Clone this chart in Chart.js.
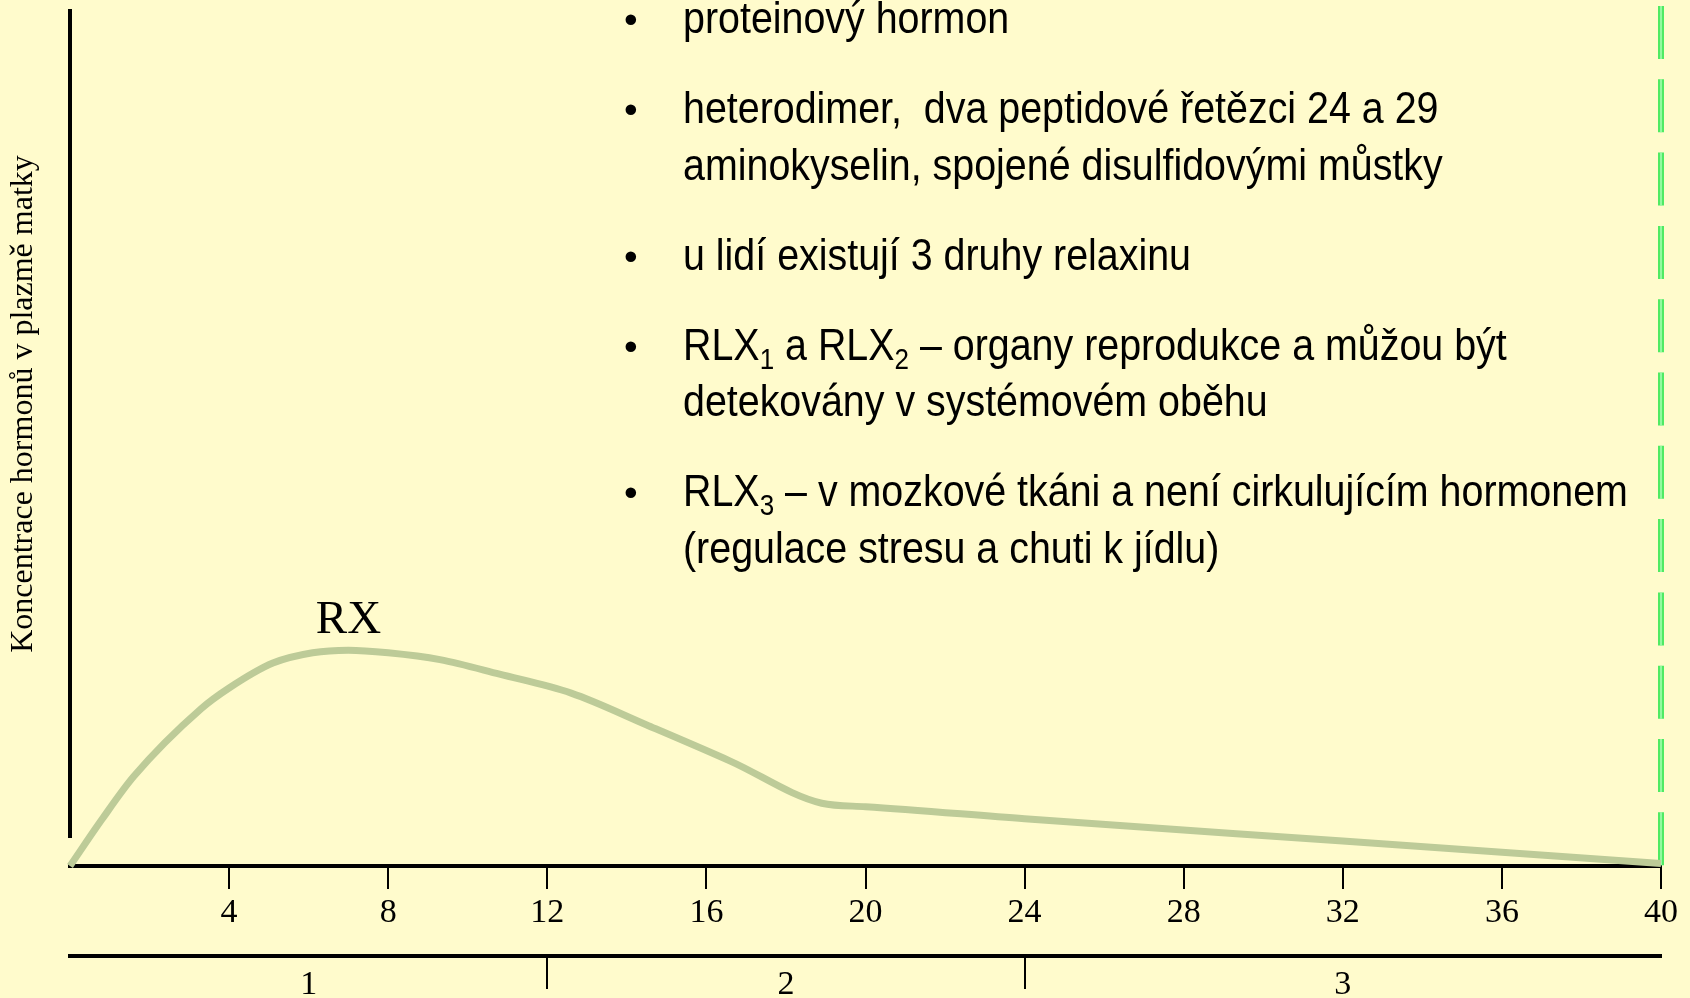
<!DOCTYPE html>
<html>
<head>
<meta charset="utf-8">
<script src="https://cdn.jsdelivr.net/npm/chart.js@4.4.1/dist/chart.umd.min.js"></script>
<style>
  html, body { margin: 0; padding: 0; background: #FFFBCC; overflow: hidden; }
</style>
</head>
<body>
<canvas id="chart" width="1690" height="998"></canvas>
<script>
// relaxin curve (weeks of pregnancy vs. relative concentration)
var weeks = [0, 0.8, 1.6, 3.3, 4.0, 5.1, 6.1, 7.0, 8.0, 9.3, 10.8, 12.6, 14.5, 16.6, 18.9, 20, 24, 32, 40];
var relaxin = [0, 5.4, 10.4, 18.3, 20.7, 23.6, 24.8, 25.1, 24.8, 24.0, 22.3, 20.1, 16.4, 12.2, 7.3, 6.9, 5.5, 2.9, 0.3];
var weekTicks = [0, 4, 8, 12, 16, 20, 24, 28, 32, 36, 40];
var trimesterLabels = ['1', '2', '3'];
var trimesterBounds = [0, 12, 24, 40];
var termWeek = 40;
var seriesLabel = 'RX';
var yTitle = 'Koncentrace hormonů v plazmě matky';

// _n marks a subscript digit
var bullets = [
    ['proteinový hormon'],
    ['heterodimer,  dva peptidové řetězci 24 a 29', 'aminokyselin, spojené disulfidovými můstky'],
    ['u lidí existují 3 druhy relaxinu'],
    ['RLX_1 a RLX_2 – organy reprodukce a můžou být', 'detekovány v systémovém oběhu'],
    ['RLX_3 – v mozkové tkáni a není cirkulujícím hormonem', '(regulace stresu a chuti k jídlu)']
];

var serif = '"Liberation Serif", "Times New Roman", serif';
var sans = '"Liberation Sans", Arial, sans-serif';

// text on the slide is a bit taller than plain Arial
function drawRich(ctx, text, x, y) {
    var parts = text.split(/_(\d)/);
    ctx.save();
    ctx.translate(x, y);
    ctx.scale(1, 1.13);
    var cx = 0;
    for (var i = 0; i < parts.length; i++) {
        var sub = i % 2 === 1;
        ctx.font = (sub ? '26px ' : '39.4px ') + sans;
        ctx.fillText(parts[i], cx, sub ? 8 : 0);
        cx += ctx.measureText(parts[i]).width;
    }
    ctx.restore();
}

var slidePlugin = {
    id: 'slide',
    beforeDraw: function (chart) {
        var ctx = chart.ctx;
        ctx.save();
        ctx.fillStyle = '#FFFBCC';
        ctx.fillRect(0, 0, chart.width, chart.height);
        ctx.restore();
    },
    beforeDatasetsDraw: function (chart) {
        var a = chart.chartArea, ctx = chart.ctx;
        ctx.save();
        // vertical axis line, stops short of the time axis
        ctx.strokeStyle = '#000';
        ctx.lineWidth = 4;
        ctx.beginPath();
        ctx.moveTo(a.left, a.top + 3);
        ctx.lineTo(a.left, a.bottom - 28);
        ctx.stroke();
        // axis title sits higher than the middle of the plot
        ctx.fillStyle = '#000';
        ctx.font = '32px ' + serif;
        ctx.textAlign = 'center';
        ctx.textBaseline = 'middle';
        ctx.translate(24, 404);
        ctx.rotate(-Math.PI / 2);
        ctx.fillText(yTitle, 0, 0);
        ctx.restore();
    },
    afterDatasetsDraw: function (chart) {
        var ctx = chart.ctx;
        var xs = chart.scales.x, ys = chart.scales.y;
        ctx.save();
        ctx.fillStyle = '#000';
        ctx.textBaseline = 'alphabetic';

        // series label above the peak
        var peak = relaxin.indexOf(Math.max.apply(null, relaxin));
        ctx.font = '47px ' + serif;
        ctx.textAlign = 'center';
        ctx.fillText(seriesLabel, xs.getPixelForValue(weeks[peak]), ys.getPixelForValue(relaxin[peak]) - 17);

        // bullet text
        ctx.textAlign = 'left';
        var y = 33;
        bullets.forEach(function (lines, b) {
            if (b > 0) y += 90;
            ctx.font = '39px ' + sans;
            ctx.fillText('•', 624, y);
            lines.forEach(function (line, i) {
                if (i > 0) y += 56.5;
                drawRich(ctx, line, 683, y);
            });
        });
        ctx.restore();
    }
};

var curve = weeks.map(function (w, i) { return { x: w, y: relaxin[i] }; });
var termLine = [{ x: termWeek, y: 100 }, { x: termWeek, y: 0 }];

var config = {
    type: 'line',
    data: {
        datasets: [{
            data: curve,
            borderColor: '#BDCB98',
            borderWidth: 7,
            cubicInterpolationMode: 'monotone',
            pointRadius: 0,
            fill: false,
            clip: false
        }, {
            data: termLine,
            borderColor: '#A8FFB4',
            borderWidth: 1.5,
            borderDash: [53, 20.3],
            pointRadius: 0,
            fill: false,
            clip: false
        }, {
            data: termLine,
            borderColor: '#4FEA63',
            borderWidth: 6,
            borderDash: [53, 20.3],
            pointRadius: 0,
            fill: false,
            clip: false
        }]
    },
    options: {
        responsive: false,
        animation: false,
        devicePixelRatio: 1,
        layout: {
            padding: { top: 6, right: 29, left: 70, bottom: 0 }
        },
        plugins: {
            legend: { display: false },
            tooltip: { enabled: false }
        },
        scales: {
            x: {
                type: 'linear',
                position: 'bottom',
                weight: 0,
                min: 0,
                max: 40,
                afterBuildTicks: function (scale) {
                    scale.ticks = weekTicks.map(function (v) { return { value: v }; });
                },
                ticks: {
                    autoSkip: false,
                    maxRotation: 0,
                    padding: 8.5,
                    color: '#000',
                    font: { family: serif, size: 34, lineHeight: 31 / 34 },
                    callback: function (value) { return value === 0 ? '' : String(value); }
                },
                grid: {
                    drawOnChartArea: false,
                    tickLength: 23,
                    lineWidth: 2,
                    color: function (ctx) {
                        return ctx.tick && ctx.tick.value === 0 ? 'rgba(0,0,0,0)' : '#000';
                    }
                },
                border: { color: '#000', width: 4 },
                // spacer between week labels and trimester axis
                title: {
                    display: true,
                    text: ' ',
                    color: 'rgba(0,0,0,0)',
                    font: { size: 1, lineHeight: 1 },
                    padding: { top: 9, bottom: 9 }
                }
            },
            x2: {
                type: 'linear',
                position: 'bottom',
                weight: 1,
                min: 0,
                max: 40,
                afterBuildTicks: function (scale) {
                    var t = [];
                    for (var i = 0; i < trimesterLabels.length; i++) {
                        t.push({ value: (trimesterBounds[i] + trimesterBounds[i + 1]) / 2 });
                        if (i < trimesterLabels.length - 1) t.push({ value: trimesterBounds[i + 1] });
                    }
                    scale.ticks = t;
                },
                ticks: {
                    autoSkip: false,
                    maxRotation: 0,
                    padding: -17,
                    color: '#000',
                    font: { family: serif, size: 34, lineHeight: 27 / 34 },
                    callback: function (value) {
                        for (var i = 0; i < trimesterLabels.length; i++) {
                            if (value === (trimesterBounds[i] + trimesterBounds[i + 1]) / 2) return trimesterLabels[i];
                        }
                        return '';
                    }
                },
                grid: {
                    drawOnChartArea: false,
                    tickLength: 33,
                    lineWidth: 2,
                    color: function (ctx) {
                        return ctx.tick && trimesterBounds.indexOf(ctx.tick.value) > 0 ? '#000' : 'rgba(0,0,0,0)';
                    }
                },
                border: { color: '#000', width: 4 },
                // keeps the label band inside the scale box
                title: {
                    display: true,
                    text: ' ',
                    color: 'rgba(0,0,0,0)',
                    font: { size: 1, lineHeight: 1 },
                    padding: { top: 7, bottom: 8 }
                }
            },
            y: {
                type: 'linear',
                position: 'left',
                min: 0,
                max: 100,
                display: false
            }
        }
    },
    plugins: [slidePlugin]
};

window.onload = function () {
    var ctx = document.getElementById('chart').getContext('2d');
    window.myChart = new Chart(ctx, config);
};
</script>
</body>
</html>
